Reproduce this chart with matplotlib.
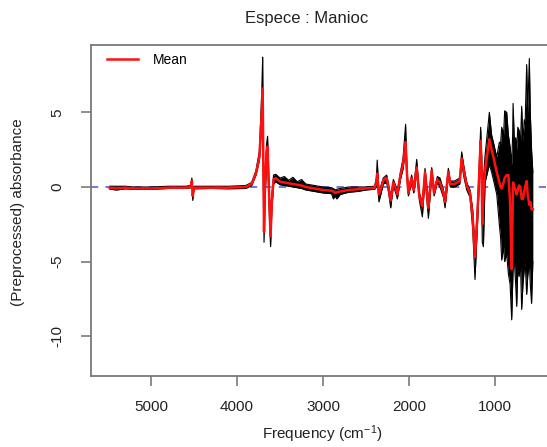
import matplotlib
matplotlib.use("Agg")
import matplotlib.pyplot as plt

plt.rcParams['font.family'] = ['Liberation Sans', 'DejaVu Sans']
plt.rcParams['mathtext.fontset'] = 'custom'
plt.rcParams['mathtext.rm'] = 'Liberation Sans'
plt.rcParams['mathtext.it'] = 'Liberation Sans:italic'

freq = [5480, 5400, 5300, 5200, 5000, 4800, 4600, 4540, 4525, 4515, 4500, 4300, 4100,
        3900, 3830, 3780, 3740, 3712, 3702, 3695, 3686, 3675, 3658, 3645, 3630, 3610,
        3595, 3575,
        3550, 3500, 3450, 3400, 3350, 3300, 3250, 3200, 3100, 3000, 2900, 2880, 2860,
        2840, 2800, 2700, 2600, 2500, 2400,
        2380, 2370, 2350, 2320, 2300, 2260, 2240, 2213, 2182, 2150,
        2136, 2100, 2070, 2040, 2025, 2008, 1970, 1945, 1911, 1880, 1845, 1814, 1775,
        1736, 1709, 1671, 1640, 1600, 1581, 1543, 1520, 1470, 1440, 1410, 1388, 1360,
        1329, 1291, 1260, 1233, 1210, 1194, 1167, 1155, 1148, 1135, 1116, 1066, 1040,
        1019, 980, 950, 935, 922, 900, 888, 864, 845, 825, 806, 795, 790, 775, 760,
        748, 735, 720, 705, 690, 675, 660, 650, 632, 620, 601, 590, 575, 560]

# Mean spectrum (red)
mean_abs = [-0.05, -0.1, -0.05, -0.1, -0.1, -0.05, -0.05, 0.0, 0.4, -0.6, -0.05, -0.05, -0.05,
            0.0, 0.2, 0.9, 2.0, 5.0, 6.6, 2.0, -3.0, 0.0, 2.2, 2.7, 0.0, -3.3,
            -1.0, 0.5,
            0.6, 0.35, 0.3, 0.25, 0.2, 0.15, 0.1, 0.0, -0.1, -0.2, -0.25, -0.3, -0.4,
            -0.35, -0.3, -0.2, -0.15, -0.1, -0.05,
            0.3, 0.9, -0.5, 0.0, 0.45, 0.6, 0.0, -0.9, 0.3, -0.2,
            -0.5, 0.8, 1.5, 3.0, 1.0, -0.4, 0.6, -0.2, 1.3, -0.6, -1.3, 1.0, -1.4,
            1.1, -0.4, 0.5, 0.3, -0.4, -1.0, 1.0, 0.2, 0.2, 0.3, 0.4, 1.9, 1.0,
            0.1, -0.4, -2.0, -4.7, -2.5, -0.5, 3.1, 1.0, -2.5, -0.5, 1.1, 3.2, 2.5,
            2.0, 1.0, 0.3, 0.0, -0.1, 0.3, 0.6, 0.8, 0.8, -1.0, -5.5, -1.5, 0.3, 0.0, -0.2,
            -0.5, -0.2, 0.1, 0.0, -0.8, -0.8, -0.3, 0.0, 0.4, -0.5, -1.2, -1.0, -1.5, -1.5]

# Upper envelope of the individual spectra (black)
upper_abs = [0.05, 0.05, 0.05, 0.0, 0.0, 0.05, 0.05, 0.1, 0.6, -0.3, 0.05, 0.05, 0.05,
             0.1, 0.3, 1.1, 2.4, 6.5, 8.7, 3.0, -2.5, 0.5, 2.8, 3.4, 0.5, -2.8,
             -0.5, 0.8,
             0.85, 0.6, 0.7, 0.45, 0.65, 0.35, 0.5, 0.2, 0.1, 0.0, -0.05, -0.1, -0.2,
             -0.15, -0.1, 0.0, 0.0, 0.0, 0.05,
             0.6, 1.8, -0.3, 0.2, 0.6, 0.8, 0.2, -0.6, 0.5, 0.0,
             -0.3, 1.0, 1.9, 4.2, 1.4, -0.2, 0.8, 0.0, 1.85, -0.4, -1.0, 1.25, -1.0,
             1.3, -0.2, 0.7, 0.6, -0.2, -0.7, 1.25, 0.4, 0.4, 0.5, 0.6, 2.35, 1.3,
             0.3, -0.2, -1.5, -4.2, -1.8, 0.0, 4.0, 2.0, -1.0, 0.5, 2.1, 5.0, 3.5,
             3.0, 2.0, 3.0, 2.9, 4.0, 3.5, 5.1, 5.0, 3.5, 2.7, 1.5, 3.5, 5.6, 3.0, 3.3,
             2.5, 4.0, 3.8, 2.8, 5.4, 3.0, 4.5, 4.2, 8.2, 5.0, 8.6, 5.0, 2.5, 1.0]

# Lower envelope of the individual spectra (black)
lower_abs = [-0.15, -0.2, -0.12, -0.15, -0.15, -0.1, -0.1, -0.05, 0.2, -0.9, -0.12, -0.1, -0.12,
             -0.1, 0.1, 0.8, 1.8, 4.5, 6.0, 0.5, -3.7, -1.0, 1.5, 2.3, -1.0, -4.0,
             -1.5, 0.2,
             0.35, 0.15, 0.1, 0.05, 0.0, -0.05, -0.1, -0.2, -0.3, -0.4, -0.45, -0.8, -0.6,
             -0.8, -0.5, -0.35, -0.3, -0.2, -0.15,
             0.0, 0.5, -1.0, -0.3, 0.2, 0.3, -0.3, -1.4, 0.1, -0.5,
             -0.8, 0.5, 1.2, 2.6, 0.6, -0.6, 0.3, -0.4, 1.0, -0.9, -2.0, 0.6, -2.1,
             0.8, -0.6, 0.3, 0.0, -0.7, -1.4, 0.7, 0.0, 0.0, 0.1, 0.2, 1.6, 0.6,
             -0.2, -0.7, -2.8, -6.2, -3.2, -1.2, 2.5, -1.0, -3.7, -4.0, 0.3, 1.5, 1.0,
             0.5, -0.5, -2.5, -3.4, -4.9, -4.0, -5.0, -4.5, -5.8, -6.5, -8.9, -6.5, -5.5, -5.0, -6.5,
             -8.0, -5.5, -6.0, -5.0, -8.2, -6.5, -5.5, -5.0, -7.2, -6.0, -5.0, -6.5, -7.8, -5.0]

x_ticks = [5000, 4000, 3000, 2000, 1000]
y_ticks = [5, 0, -5, -10]

W, H = 547, 447
fig = plt.figure(figsize=(W / 100, H / 100), dpi=100)
ax = fig.add_axes([91 / W, (H - 376) / H, (549.2 - 91) / W, (376 - 45) / H])

ax.axhline(0, color='#6b6bd9', lw=1.3, ls=(0, (4, 4)), zorder=1)
ax.fill_between(freq, lower_abs, upper_abs, color='black', lw=0, zorder=2)
ax.plot(freq, upper_abs, color='black', lw=0.8, zorder=2)
ax.plot(freq, lower_abs, color='black', lw=0.8, zorder=2)
ax.plot(freq, mean_abs, color='#ff1010', lw=1.8, zorder=3, label='Mean')

ax.set_xlim(5698, 370)
ax.set_ylim(-12.66, 9.51)
ax.set_xticks(x_ticks)
ax.set_xticklabels([str(t) for t in x_ticks])
ax.set_yticks(y_ticks)
ax.set_yticklabels([str(t) for t in y_ticks], rotation=90, va='center')

for s in ax.spines.values():
    s.set_color('#7a7a7a')
    s.set_linewidth(1.3)
ax.tick_params(axis='both', direction='out', length=7, width=1.2, color='#7a7a7a',
               labelsize=11, labelcolor='#222222')
ax.tick_params(axis='x', pad=10)
ax.tick_params(axis='y', pad=12)

leg = ax.legend(loc='upper left', bbox_to_anchor=(0.035, 0.975), frameon=False,
                fontsize=10, handlelength=2.2, handletextpad=1.1, borderpad=0,
                borderaxespad=0)

fig.text(307 / W, 1 - 18 / H, 'Espece : Manioc', ha='center', va='center',
         fontsize=12, color='#222222')
fig.text(322 / W, 1 - 434 / H, r'Frequency (cm$^{-1}$)', ha='center', va='center',
         fontsize=11, color='#222222')
fig.text(18 / W, 1 - 212 / H, '(Preprocessed) absorbance', ha='center', va='center',
         rotation=90, fontsize=11, color='#222222')

fig.savefig('out.png', dpi=100)
